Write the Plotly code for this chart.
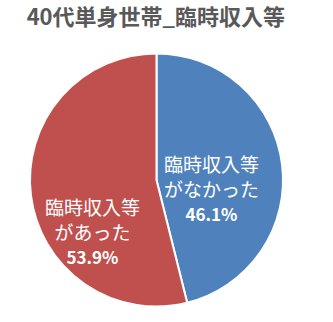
import plotly.graph_objects as go

title = "40代単身世帯_臨時収入等"
labels = ["臨時収入等<br>がなかった", "臨時収入等<br>があった"]
values = [46.1, 53.9]
colors = ["#4F81BD", "#C0504D"]
# label anchor positions (paper fractions) for each slice label
label_x = [211 / 333, 92 / 333]
label_y = [1 - 188 / 322, 1 - 231 / 322]

total = sum(values)

fig = go.Figure(go.Pie(
    labels=labels,
    values=values,
    sort=False,
    direction="clockwise",
    rotation=0,
    marker=dict(colors=colors, line=dict(color="white", width=2)),
    textinfo="none",
    hoverinfo="label+percent",
    showlegend=False,
    domain=dict(x=[30/333, 283/333], y=[15/322, 269/322]),
))

for lab, v, x, y in zip(labels, values, label_x, label_y):
    fig.add_annotation(
        x=x, y=y, xref="paper", yref="paper",
        xanchor="center", yanchor="middle",
        text=f"{lab}<br><b><span style='font-size:17px'>{v / total * 100:.1f}%</span></b>",
        showarrow=False,
        font=dict(color="white", size=19, family="Noto Sans CJK JP"),
        align="center",
    )

fig.update_layout(
    width=333, height=322,
    margin=dict(l=0, r=0, t=0, b=0),
    paper_bgcolor="white",
    plot_bgcolor="white",
    title=dict(text="<b>" + title + "</b>", x=0.468, xanchor="center", y=0.945, yanchor="middle",
               font=dict(size=22, color="#595959", family="Noto Sans CJK JP")),
)

fig.write_html("out.html")
